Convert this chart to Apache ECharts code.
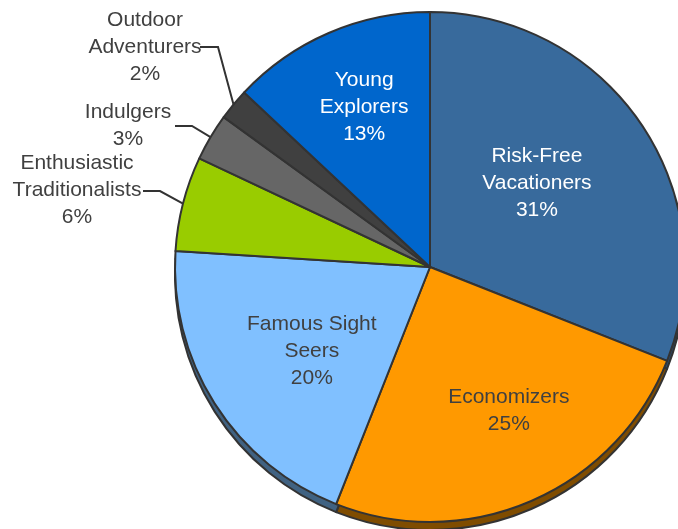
<!DOCTYPE html>
<html>
<head>
<meta charset="utf-8">
<script src="https://cdn.jsdelivr.net/npm/echarts@6/dist/echarts.min.js"></script>
<style>
  html, body { margin: 0; padding: 0; background: #fff; }
  #chart { width: 678px; height: 529px; }
</style>
</head>
<body>
<div id="chart"></div>
<script>
// segment names and shares (percent), clockwise from 12 o'clock
var segments = ["Risk-Free\nVacationers", "Economizers", "Famous Sight\nSeers", "Enthusiastic\nTraditionalists", "Indulgers", "Outdoor\nAdventurers", "Young\nExplorers"];
var shares = [31, 25, 20, 6, 3, 2, 13];

var colors = ["#386a9c", "#ff9900", "#80c0ff", "#99cc00", "#666666", "#404040", "#0066cc"];
var rimColors = ["#2a4f75", "#7f4c00", "#406282", "#4c6600", "#333333", "#202020", "#003366"];
var labelColors = ["#fff", "#404040", "#404040", "#404040", "#404040", "#404040", "#fff"];

var chart = echarts.init(document.getElementById("chart"));

var font = "'Liberation Sans', Arial, sans-serif";

// label placement: inside labels get a nudge, outside ones a fixed spot + leader kink
var inside = { 0: [-1, -10], 1: [27, 24], 2: [-8, 14], 6: [-14, -40] };
var outside = {
  3: { x: 77, y: 190, kink: [160, 191], end: [143, 191] },
  4: { x: 128, y: 126, kink: [192, 126], end: [175, 126] },
  5: { x: 145, y: 47, kink: [218, 47], end: [200, 47] }
};

var frontData = shares.map(function(v, i) {
  var isOut = !!outside[i];
  return {
    name: segments[i],
    value: v,
    itemStyle: { color: colors[i] },
    label: { position: isOut ? "outside" : "inside", color: labelColors[i] },
    labelLine: { show: isOut }
  };
});

var rimData = shares.map(function(v, i) {
  return { name: segments[i], value: v, itemStyle: { color: rimColors[i] } };
});

var option = {
  animation: false,
  series: [
    {
      // the darker "side" of the pie, peeking out underneath
      type: "pie",
      silent: true,
      center: [430, 275],
      radius: 255,
      startAngle: 90,
      label: { show: false },
      labelLine: { show: false },
      itemStyle: { borderColor: "#333", borderWidth: 2 },
      emphasis: { disabled: true },
      data: rimData
    },
    {
      type: "pie",
      center: [430, 267],
      radius: 255,
      startAngle: 90,
      itemStyle: { borderColor: "#333", borderWidth: 2 },
      emphasis: { disabled: true },
      label: {
        show: true,
        fontFamily: font,
        fontSize: 21,
        lineHeight: 27,
        align: "center",
        overflow: "none",
        textBorderWidth: 0,
        formatter: "{b}\n{c}%"
      },
      labelLine: {
        lineStyle: { color: "#333", width: 2 }
      },
      labelLayout: function(params) {
        var i = params.dataIndex;
        if (outside[i]) {
          var o = outside[i];
          var start = params.labelLinePoints ? params.labelLinePoints[0] : o.kink;
          return {
            x: o.x,
            y: o.y,
            align: "center",
            verticalAlign: "middle",
            width: 200,
            labelLinePoints: [start, o.kink, o.end]
          };
        }
        var d = inside[i] || [0, 0];
        return { dx: d[0], dy: d[1] };
      },
      data: frontData
    }
  ]
};

chart.setOption(option);
</script>
</body>
</html>
